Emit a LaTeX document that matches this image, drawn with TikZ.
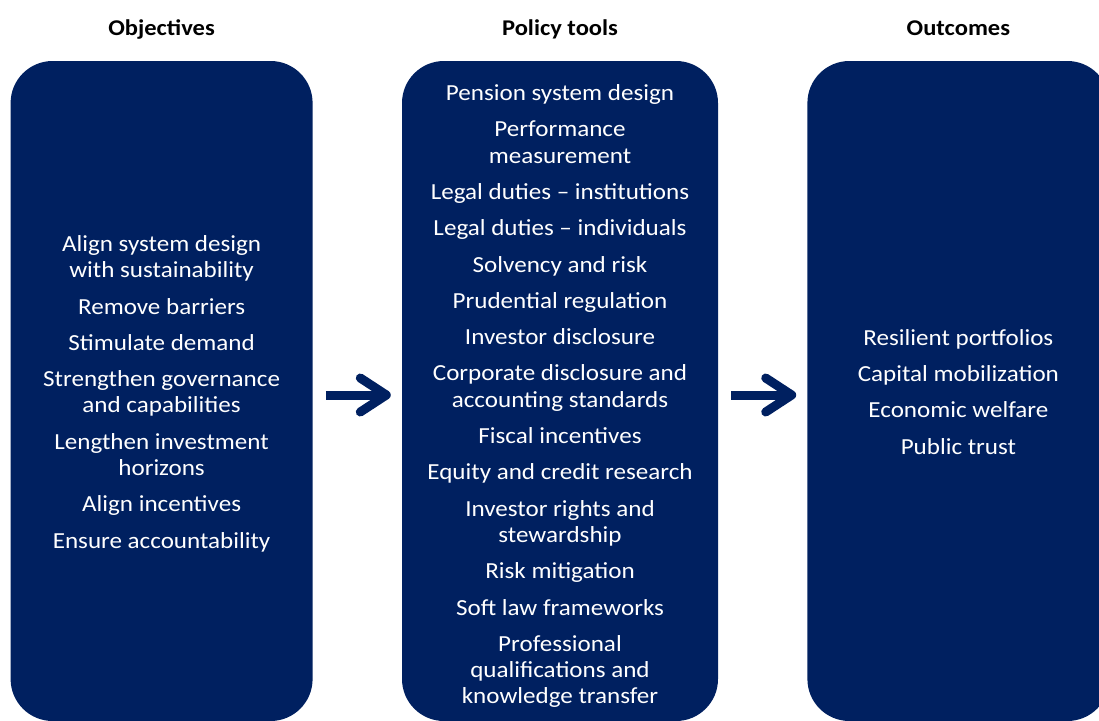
\documentclass[tikz,border=0pt]{standalone}
\usepackage{fontspec}
\setmainfont{Carlito}[FakeStretch=1.09]
\usetikzlibrary{positioning, arrows.meta}
\definecolor{navy}{RGB}{0,32,96}

\begin{document}
\begin{tikzpicture}[x=1pt, y=1pt, node distance=89pt]
  % Styles
  \tikzset{panel/.style={fill=navy, rounded corners=42pt, minimum width=302pt, minimum height=660pt, inner sep=0pt}}
  \tikzset{items/.style={text=white, align=center, inner sep=0pt, font=\fontsize{23}{26.3}\selectfont}}
  \tikzset{heading/.style={text=black, inner sep=0pt, text depth=0pt, font=\bfseries\fontsize{22.5}{26}\selectfont}}
  \tikzset{flowarrow/.style={draw=navy, line width=9pt, shorten <=13pt, shorten >=11pt, -{Straight Barb[length=26pt, width=34pt, round]}}}

  \useasboundingbox (0,0) rectangle (1099,-720);

  % --- Panels ---
  \node[panel, minimum width=316pt] (tools) at (560,-391) {};
  \node[panel] (objectives) [left=of tools] {};
  \node[panel] (outcomes) [right=of tools] {};

  % --- Lists ---
  \node[items, yshift=-6pt] (toollist) at (tools) {%
    \strut Pension system design\\[10pt]
    Performance\\ measurement\\[10pt]
    Legal duties -- institutions\\[10pt]
    Legal duties -- individuals\\[10pt]
    Solvency and risk\\[10pt]
    Prudential regulation\\[10pt]
    Investor disclosure\\[10pt]
    Corporate disclosure and\\ accounting standards\\[10pt]
    Fiscal incentives\\[10pt]
    Equity and credit research\\[10pt]
    Investor rights and\\ stewardship\\[10pt]
    Risk mitigation\\[10pt]
    Soft law frameworks\\[10pt]
    Professional\\ qualifications and\\ knowledge transfer\strut};
  \node[items, yshift=-3.5pt] (objlist) at (objectives) {%
    \strut Align system design\\ with sustainability\\[10pt]
    Remove barriers\\[10pt]
    Stimulate demand\\[10pt]
    Strengthen governance\\ and capabilities\\[10pt]
    Lengthen investment\\ horizons\\[10pt]
    Align incentives\\[10pt]
    Ensure accountability\strut};
  \node[items, yshift=-3.5pt] (outlist) at (outcomes) {%
    \strut Resilient portfolios\\[10pt]
    Capital mobilization\\[10pt]
    Economic welfare\\[10pt]
    Public trust\strut};

  % --- Headings ---
  \node[heading] (objhead) [above=25pt of objectives] {Objectives};
  \node[heading] (toolhead) [above=25pt of tools] {Policy tools};
  \node[heading] (outhead) [above=25pt of outcomes] {Outcomes};

  % --- Arrows ---
  \draw[flowarrow] ([yshift=-4pt]objectives.east) -- ([yshift=-4pt]tools.west);
  \draw[flowarrow] ([yshift=-4pt]tools.east) -- ([yshift=-4pt]outcomes.west);

\end{tikzpicture}
\end{document}
